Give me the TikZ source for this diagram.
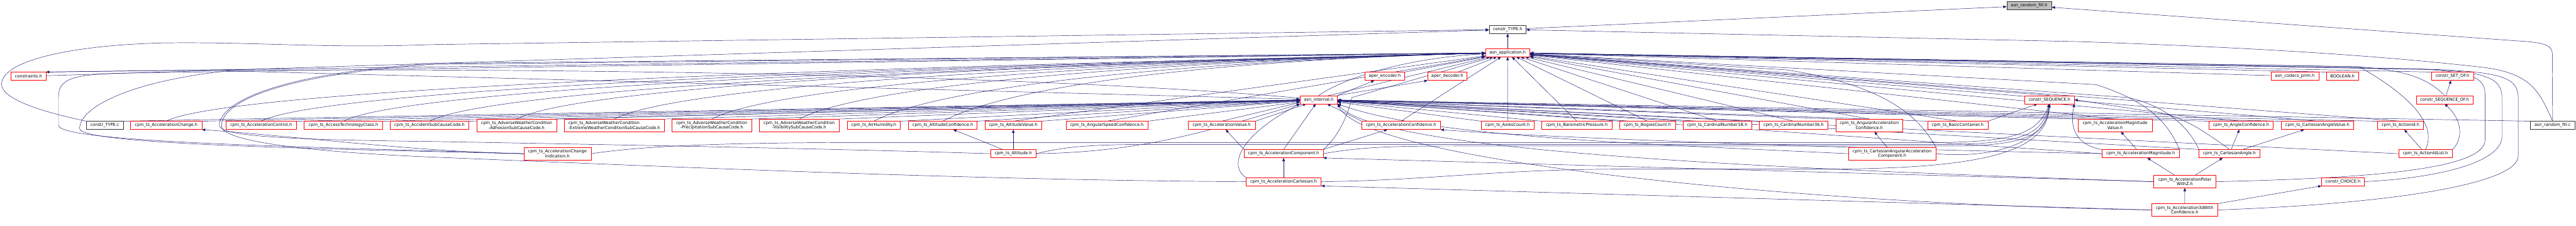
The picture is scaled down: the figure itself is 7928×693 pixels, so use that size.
\documentclass[tikz,border=0pt]{standalone}
\usepackage{fontspec}
\setmainfont{DejaVu Sans}
\usepackage{xcolor}
\definecolor{edgeblue}{RGB}{25,25,112}
\definecolor{boxred}{RGB}{255,0,0}
\definecolor{boxgray}{RGB}{191,191,191}
\usepackage{tikz}
\usetikzlibrary{arrows.meta}
\pgfdeclarelayer{bg}
\pgfsetlayers{bg,main}

\begin{document}
\begin{tikzpicture}[x=1pt, y=-1pt,
  hfile/.style={rectangle, draw=boxred, fill=white, line width=1pt, minimum width=#1pt,
                minimum height=25pt, inner sep=2pt, align=center,
                font=\fontsize{12.8}{14.5}\selectfont},
  hfile2/.style={hfile=#1, minimum height=38pt},
  cfile/.style={hfile=#1, draw=black!80},
  gfile/.style={hfile=#1, draw=black!80, fill=boxgray},
  inc/.style={draw=edgeblue, line width=0.9pt, -{Triangle[length=10pt,width=8pt]}}
]
\useasboundingbox (0,0) rectangle (7928,693);

% Top: the header and the headers above the type files
\node[gfile=138] (rfillh) at (6245,17.5) {asn\_random\_fill.h};
\node[cfile=114] (typeh) at (4640,90.5) {constr\_TYPE.h};
\node[hfile=137] (apph) at (4640,162) {asn\_application.h};

\node[hfile=107] (constraints) at (87.5,234.5) {constraints.h};
\node[hfile=121] (aperenc) at (4261.5,234.5) {aper\_encoder.h};
\node[hfile=121] (aperdec) at (4454.5,234.5) {aper\_decoder.h};
\node[hfile=147] (prim) at (7062.5,234.5) {asn\_codecs\_prim.h};
\node[hfile=98] (bool) at (7209,234.5) {BOOLEAN.h};
\node[hfile=129] (setof) at (7547.5,234.5) {constr\_SET\_OF.h};

\node[hfile=115] (internal) at (4058.5,306.5) {asn\_internal.h};
\node[hfile=153] (seq) at (6307.5,306.5) {constr\_SEQUENCE.h};
\node[hfile=175] (seqof) at (7523.5,306.5) {constr\_SEQUENCE\_OF.h};

% Middle row: type headers
\node[cfile=113] (typec) at (322.5,385.5) {constr\_TYPE.c};
\node[hfile=219] (accchg) at (511.5,385.5) {cpm\_ts\_AccelerationChange.h};
\node[hfile=217] (accctl) at (803.5,385.5) {cpm\_ts\_AccelerationControl.h};
\node[hfile=242] (access) at (1057,385.5) {cpm\_ts\_AccessTechnologyClass.h};
\node[hfile=242] (accident) at (1322,385.5) {cpm\_ts\_AccidentSubCauseCode.h};
\node[hfile2=246] (advadh) at (1590,385.5) {cpm\_ts\_AdverseWeatherCondition\\-AdhesionSubCauseCode.h};
\node[hfile2=307, align=left] (advext) at (1890.5,385.5) {cpm\_ts\_AdverseWeatherCondition\\-ExtremeWeatherConditionSubCauseCode.h};
\node[hfile2=245] (advprec) at (2190.5,385.5) {cpm\_ts\_AdverseWeatherCondition\\-PrecipitationSubCauseCode.h};
\node[hfile2=245] (advvis) at (2459.5,385.5) {cpm\_ts\_AdverseWeatherCondition\\-VisibilitySubCauseCode.h};
\node[hfile=164] (airhum) at (2689,385.5) {cpm\_ts\_AirHumidity.h};
\node[hfile=211] (altconf) at (2901.5,385.5) {cpm\_ts\_AltitudeConfidence.h};
\node[hfile=175] (altval) at (3118.5,385.5) {cpm\_ts\_AltitudeValue.h};
\node[hfile=251] (angspd) at (3406.5,385.5) {cpm\_ts\_AngularSpeedConfidence.h};
\node[hfile=206] (accval) at (3760,385.5) {cpm\_ts\_AccelerationValue.h};
\node[hfile=242] (accconf) at (4312,385.5) {cpm\_ts\_AccelerationConfidence.h};
\node[hfile=163] (axles) at (4639.5,385.5) {cpm\_ts\_AxlesCount.h};
\node[hfile=216] (baro) at (4853,385.5) {cpm\_ts\_BarometricPressure.h};
\node[hfile=172] (bogies) at (5070,385.5) {cpm\_ts\_BogiesCount.h};
\node[hfile=212] (card1b) at (5285,385.5) {cpm\_ts\_CardinalNumber1B.h};
\node[hfile=210] (card3b) at (5520,385.5) {cpm\_ts\_CardinalNumber3b.h};
\node[hfile2=206] (angaccconf) at (5753,385.5) {cpm\_ts\_AngularAcceleration\\Confidence.h};
\node[hfile=186] (basic) at (6025,385.5) {cpm\_ts\_BasicContainer.h};
\node[hfile2=227] (accmagval) at (6509.5,385.5) {cpm\_ts\_AccelerationMagnitude\\Value.h};
\node[hfile=198] (angconf) at (6897,385.5) {cpm\_ts\_AngleConfidence.h};
\node[hfile=224] (cartangval) at (7132,385.5) {cpm\_ts\_CartesianAngleValue.h};
\node[hfile=142] (actid) at (7388,385.5) {cpm\_ts\_ActionId.h};
\node[cfile=136] (rfillc) at (7856,385.5) {asn\_random\_fill.c};

% Lower rows: composed types
\node[hfile2=207] (accchgind) at (1715.5,472.5) {cpm\_ts\_AccelerationChange\\Indication.h};
\node[hfile=139] (alt) at (3118.5,472.5) {cpm\_ts\_Altitude.h};
\node[hfile=243] (acccomp) at (3950.5,472.5) {cpm\_ts\_AccelerationComponent.h};
\node[hfile2=269] (cartangacc) at (5823.5,472.5) {cpm\_ts\_CartesianAngularAcceleration\\Component.h};
\node[hfile=238] (accmag) at (6588,472.5) {cpm\_ts\_AccelerationMagnitude.h};
\node[hfile=187] (cartang) at (6861.5,472.5) {cpm\_ts\_CartesianAngle.h};
\node[hfile=165] (actidlist) at (7464.5,472.5) {cpm\_ts\_ActionIdList.h};

\node[hfile=231] (acccart) at (3950.5,558.5) {cpm\_ts\_AccelerationCartesian.h};
\node[hfile2=192] (accpolar) at (6724,558.5) {cpm\_ts\_AccelerationPolar\\WithZ.h};
\node[hfile=131] (choice) at (7210.5,558.5) {constr\_CHOICE.h};

\node[hfile2=203] (acc3d) at (6723.5,645.5) {cpm\_ts\_Acceleration3dWith\\Confidence.h};

\begin{pgfonlayer}{bg}
\fill[white] (0,0) rectangle (7928,693);

% includes of the random fill header
\draw[inc] (typeh) -- (rfillh);
\draw[inc] (rfillc.north) -- (7855,165) .. controls (7855,140) and (7830,133) .. (7780,128) -- (rfillh);

% constr_TYPE.h and constraints.h
\draw[inc] (apph) -- (typeh);
\draw[inc] (typec.north west) .. controls (110,340) and (0,300) .. (5,256) .. controls (10,190) and (200,140) .. (500,132) .. controls (800,128) and (1000,150) .. (1330,137) -- (typeh);
\draw[inc] (constraints) -- (typeh);
\draw[inc] (rfillc.north) .. controls (7815,280) and (7790,228) .. (7650,208) .. controls (7300,168) and (6900,145) .. (6400,128) -- (typeh);
\draw[inc] (constraints.north east) -- (apph);
\draw[inc] (internal) .. controls (3000,215) and (1200,205) .. (constraints.north east);

% asn_application.h and asn_internal.h
\draw[inc] (internal.north) .. controls (4120,250) and (4300,180) .. (apph);
\draw[inc] (aperenc.north east) -- (apph);
\draw[inc] (aperdec) -- (apph);
\draw[inc] (prim) -- (apph);
\draw[inc] (bool.north west) -- (apph);
\draw[inc] (setof.north west) -- (apph);
\draw[inc] (seqof.north) .. controls (7480,250) and (7420,215) .. (7250,205) -- (apph);
\draw[inc] (seq.north) -- (apph);
\draw[inc] (seqof) -- (setof);
\draw[inc] (internal.north east) -- (aperenc);
\draw[inc] (internal.north east) -- (aperdec.south west);
\draw[inc] (typec.north east) -- (internal);
\draw[inc] (rfillc.north west) -- (internal);

% middle row
\foreach \n in {accchg,accctl,access,accident,advadh,advext,advprec,advvis,airhum,altconf}{
  \draw[inc] (\n.north) .. controls +(250,-130) and (3900,180) .. (apph);
  \draw[inc] (\n.north east) -- (internal);
}
\foreach \n in {altval,angspd,accval}{
  \draw[inc] (\n.north) -- (apph);
  \draw[inc] (\n.north east) -- (internal);
}
\foreach \n in {accconf,axles,baro,bogies,card1b,card3b,angaccconf,basic,accmagval,angconf,cartangval,actid}{
  \draw[inc] (\n.north) -- (apph);
  \draw[inc] (\n.north west) -- (internal);
}
\draw[inc] (basic.north east) -- (seq);

% lower rows, left part
\draw[inc] (accchgind.west) .. controls (1300,468) and (900,418) .. (accchg.south east);
\draw[inc] (accchgind.west) .. controls (1000,452) and (180,440) .. (180,385) -- (180,300) .. controls (180,240) and (220,226) .. (430,224) -- (apph);
\draw[inc] (accchgind.west) .. controls (1000,458) and (245,445) .. (245,395) .. controls (245,330) and (400,250) .. (700,218) -- (internal);
\draw[inc] (accchgind.east) .. controls (2000,445) and (2300,438) .. (2700,438) -- (5950,438) .. controls (6200,438) and (6270,410) .. (seq.south);
\draw[inc] (alt) -- (altconf);
\draw[inc] (alt) -- (altval);
\draw[inc] (alt.west) .. controls (2500,455) and (1600,440) .. (1330,435) .. controls (900,430) and (675,420) .. (675,385) .. controls (675,330) and (800,230) .. (1330,195) -- (apph);
\draw[inc] (alt.east) .. controls (3500,468) and (3700,410) .. (internal.south west);
\draw[inc] (alt.east) .. controls (3300,445) and (3400,444) .. (3600,444) -- (5980,444) .. controls (6230,444) and (6285,410) .. (seq.south);
\draw[inc] (acccomp.north west) -- (accval);
\draw[inc] (acccomp.north east) -- (accconf);
\draw[inc] (acccomp.north) -- (internal);
\draw[inc] (acccomp.north east) .. controls (4120,420) and (4150,350) .. (4160,300) -- (apph);
\draw[inc] (acccomp.east) .. controls (4200,450) and (4300,449) .. (4500,449) -- (6000,449) .. controls (6250,449) and (6295,410) .. (seq.south);
\draw[inc] (acccart) -- (acccomp);
\draw[inc] (acccart.west) .. controls (3000,555) and (2000,510) .. (1330,483) .. controls (900,465) and (690,430) .. (682,390) .. controls (676,330) and (800,235) .. (1330,198) -- (apph);
\draw[inc] (acccart.north west) .. controls (3790,520) and (3790,430) .. (internal.south west);
\draw[inc] (acccart.east) .. controls (4400,555) and (4600,520) .. (5000,520) -- (5600,520) .. controls (6100,520) and (6300,470) .. (seq.south);

% lower rows, right part
\draw[inc] (cartangacc) -- (angaccconf);
\draw[inc] (cartangacc.north east) .. controls (5920,390) and (5850,270) .. (5500,215) -- (apph);
\draw[inc] (cartangacc.west) .. controls (5000,440) and (4400,420) .. (internal.south east);
\draw[inc] (cartangacc.east) .. controls (6150,490) and (6300,430) .. (seq.south);
\draw[inc] (accmag) -- (accmagval);
\draw[inc] (accmag.west) .. controls (5600,455) and (4700,420) .. (accconf.south east);
\draw[inc] (accmag.north west) .. controls (6380,445) and (6370,380) .. (seq.south east);
\draw[inc] (accmag.north east) .. controls (6680,400) and (6640,320) .. (6450,260) -- (apph);
\draw[inc] (accmag.west) -- (internal);
\draw[inc] (cartang) -- (angconf);
\draw[inc] (cartang) -- (cartangval);
\draw[inc] (cartang.north west) .. controls (6740,400) and (6680,330) .. (6550,300) -- (apph);
\draw[inc] (cartang.north west) -- (internal);
\draw[inc] (cartang.north) .. controls (6780,400) and (6700,345) .. (6600,340) -- (seq.east);
\draw[inc] (actidlist) -- (actid);
\draw[inc] (actidlist.north east) .. controls (7580,430) and (7580,370) .. (seqof.south);
\draw[inc] (actidlist.north) .. controls (7500,390) and (7430,300) .. (7260,205) -- (apph);
\draw[inc] (actidlist.west) -- (internal);
\draw[inc] (accpolar) -- (accmag);
\draw[inc] (accpolar) -- (cartang);
\draw[inc] (accpolar.west) -- (acccomp.south east);
\draw[inc] (accpolar.east) .. controls (7300,548) and (7648,520) .. (7648,430) -- (7648,290) .. controls (7648,235) and (7600,222) .. (7450,212) -- (apph);
\draw[inc] (accpolar.west) .. controls (5500,520) and (4250,470) .. (internal.south east);
\draw[inc] (choice.east) .. controls (7500,548) and (7700,500) .. (7700,420) -- (7700,300) .. controls (7700,240) and (7650,222) .. (7480,213) -- (apph);
\draw[inc] (acc3d) -- (accpolar);
\draw[inc] (acc3d.west) -- (acccart.south east);
\draw[inc] (acc3d.north east) -- (choice.south west);
\draw[inc] (acc3d.east) .. controls (7400,625) and (7750,560) .. (7750,480) -- (7750,300) .. controls (7750,240) and (7700,222) .. (7500,214) -- (apph);
\draw[inc] (acc3d.west) .. controls (5600,630) and (4200,500) .. (internal.south east);
\end{pgfonlayer}
\end{tikzpicture}
\end{document}
